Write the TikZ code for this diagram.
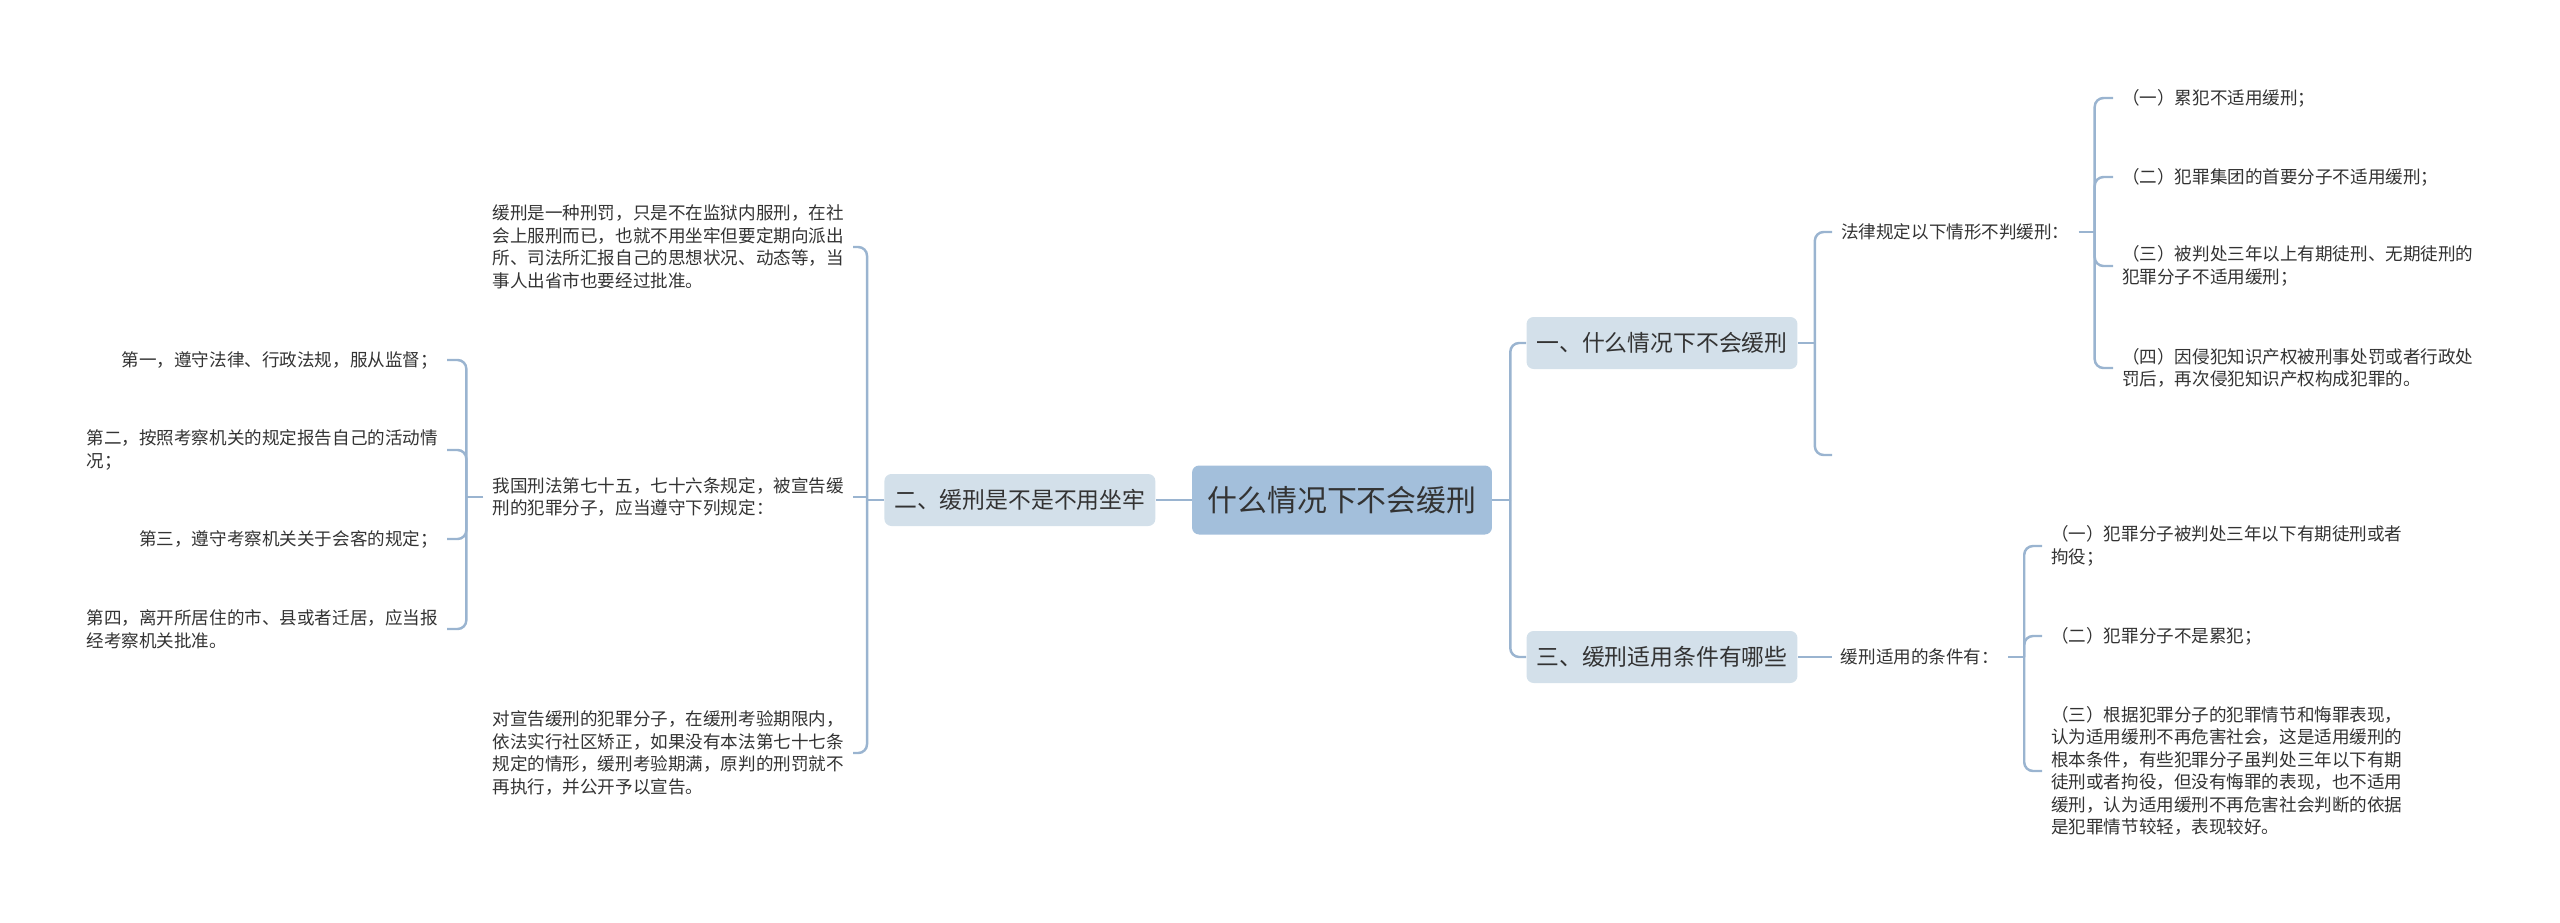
\documentclass[tikz,border=0pt]{standalone}
\usepackage{fontspec}
\newfontfamily\cjk{Noto Sans CJK SC}
\usepackage{tikz}
\usetikzlibrary{positioning,calc}

\definecolor{rootblue}{HTML}{A3BFDB}
\definecolor{branchblue}{HTML}{D3E0EA}
\definecolor{linkblue}{HTML}{9AB4D0}
\definecolor{inkgray}{HTML}{333333}

\begin{document}
\begin{tikzpicture}[
  x=0.02cm, y=-0.02cm,
  topic/.style={rectangle, rounded corners=4pt, fill=rootblue, minimum width=6cm, minimum height=1.38cm, text=inkgray, font=\cjk\fontsize{17pt}{20pt}\selectfont},
  branch/.style={rectangle, rounded corners=4pt, fill=branchblue, minimum width=5.42cm, minimum height=1.04cm, text=inkgray, font=\cjk\fontsize{13pt}{16pt}\selectfont},
  leaf/.style={inner xsep=5pt, inner ysep=2pt, align=left, text=inkgray, font=\cjk\fontsize{10pt}{12.8pt}\selectfont},
  link/.style={draw=linkblue, line width=1.4pt, rounded corners=5pt}
]
\useasboundingbox (0,0) rectangle (2560,923);

% centre and main branches
\node[topic] (root) at (1342,500) {什么情况下不会缓刑};
\node[branch, left=0.72cm of root] (two) {二、缓刑是不是不用坐牢};
\node[branch] (one) at (1662,343) {一、什么情况下不会缓刑};
\node[branch] (three) at (1662,657) {三、缓刑适用条件有哪些};

\coordinate (jR) at ($(root.east)+(18,0)$);
\draw[link] (root.west) -- (two.east);
\draw[link] (root.east) -- (jR);
\draw[link] (jR) |- (one.west);
\draw[link] (jR) |- (three.west);

% left side
\node[leaf, anchor=east] (probation) at (853,247) {缓刑是一种刑罚，只是不在监狱内服刑，在社\\会上服刑而已，也就不用坐牢但要定期向派出\\所、司法所汇报自己的思想状况、动态等，当\\事人出省市也要经过批准。};
\node[leaf, anchor=east] (rules) at (853,497) {我国刑法第七十五，七十六条规定，被宣告缓\\刑的犯罪分子，应当遵守下列规定：};
\node[leaf, anchor=east] (community) at (853,753) {对宣告缓刑的犯罪分子，在缓刑考验期限内，\\依法实行社区矫正，如果没有本法第七十七条\\规定的情形，缓刑考验期满，原判的刑罚就不\\再执行，并公开予以宣告。};

\coordinate (jL) at ($(two.west)+(-17,0)$);
\draw[link] (two.west) -- (jL);
\draw[link] (jL) |- (probation.east);
\draw[link] (jL |- rules.east) -- (rules.east);
\draw[link] (jL) |- (community.east);

\node[leaf, anchor=east] (ruleA) at (447,360) {第一，遵守法律、行政法规，服从监督；};
\node[leaf, anchor=east] (ruleB) at (447,450) {第二，按照考察机关的规定报告自己的活动情\\况；};
\node[leaf, anchor=east] (ruleC) at (447,539) {第三，遵守考察机关关于会客的规定；};
\node[leaf, anchor=east] (ruleD) at (447,629) {第四，离开所居住的市、县或者迁居，应当报\\经考察机关批准。};

\coordinate (jLL) at ($(rules.west)+(-17,0)$);
\draw[link] (rules.west) -- (jLL);
\draw[link] (jLL) |- (ruleA.east);
\draw[link] (jLL) |- (ruleB.east);
\draw[link] (jLL) |- (ruleC.east);
\draw[link] (jLL) |- (ruleD.east);

% right side, upper branch
\node[leaf, anchor=west] (law) at (1832,232) {法律规定以下情形不判缓刑：};
\coordinate (jA) at ($(one.east)+(17,0)$);
\coordinate (stub) at (1832,455);
\draw[link] (one.east) -- (jA);
\draw[link] (jA) |- (law.west);
\draw[link] (jA) |- (stub);

\node[leaf, anchor=west] (caseA) at (2113,98) {（一）累犯不适用缓刑；};
\node[leaf, anchor=west] (caseB) at (2113,177) {（二）犯罪集团的首要分子不适用缓刑；};
\node[leaf, anchor=west] (caseC) at (2113,266) {（三）被判处三年以上有期徒刑、无期徒刑的\\犯罪分子不适用缓刑；};
\node[leaf, anchor=west] (caseD) at (2113,368) {（四）因侵犯知识产权被刑事处罚或者行政处\\罚后，再次侵犯知识产权构成犯罪的。};

\coordinate (jB) at ($(law.east)+(16,0)$);
\draw[link] (law.east) -- (jB);
\draw[link] (jB) |- (caseA.west);
\draw[link] (jB) |- (caseB.west);
\draw[link] (jB) |- (caseC.west);
\draw[link] (jB) |- (caseD.west);

% right side, lower branch
\node[leaf, anchor=west, right=0.68cm of three] (terms) {缓刑适用的条件有：};
\draw[link] (three.east) -- (terms.west);

\node[leaf, anchor=west] (termA) at (2042,546) {（一）犯罪分子被判处三年以下有期徒刑或者\\拘役；};
\node[leaf, anchor=west] (termB) at (2042,636) {（二）犯罪分子不是累犯；};
\node[leaf, anchor=west] (termC) at (2042,771) {（三）根据犯罪分子的犯罪情节和悔罪表现，\\认为适用缓刑不再危害社会，这是适用缓刑的\\根本条件，有些犯罪分子虽判处三年以下有期\\徒刑或者拘役，但没有悔罪的表现，也不适用\\缓刑，认为适用缓刑不再危害社会判断的依据\\是犯罪情节较轻，表现较好。};

\coordinate (jC) at ($(terms.east)+(16,0)$);
\draw[link] (terms.east) -- (jC);
\draw[link] (jC) |- (termA.west);
\draw[link] (jC) |- (termB.west);
\draw[link] (jC) |- (termC.west);
\end{tikzpicture}
\end{document}
